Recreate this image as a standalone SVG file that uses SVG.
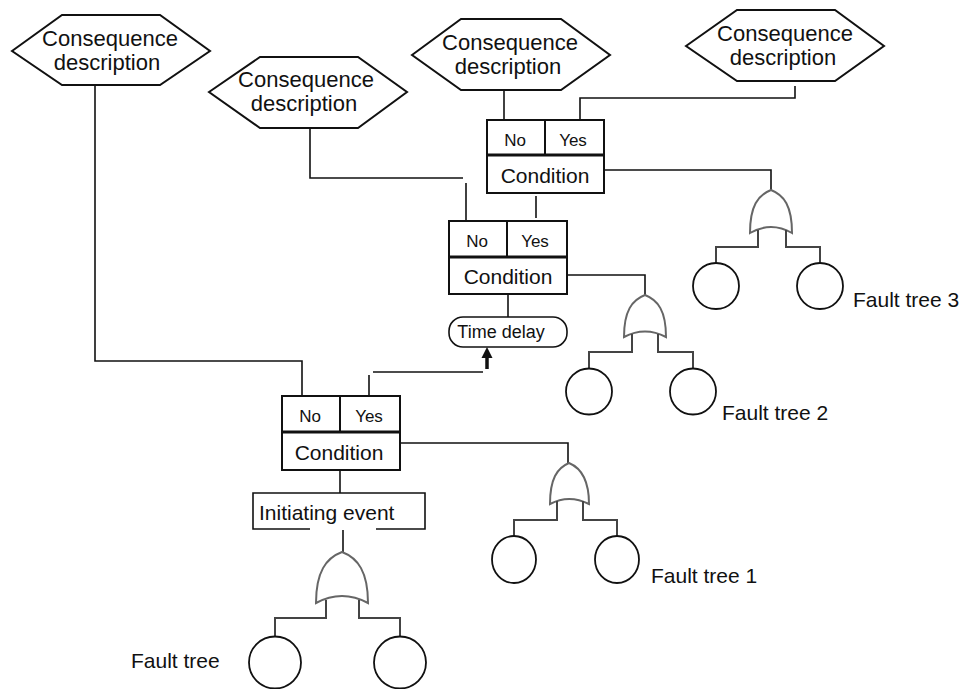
<svg xmlns="http://www.w3.org/2000/svg" width="963" height="689" viewBox="0 0 963 689">
  <style>
    text { font-family: "Liberation Sans", Arial, sans-serif; fill: #111; }
    .hex { fill: #fff; stroke: #111; stroke-width: 2; }
    .big { font-size: 21px; text-anchor: middle; }
    .hexlbl { font-size: 22px; text-anchor: middle; }
    .small { font-size: 17px; text-anchor: middle; }
    .box { fill: #fff; stroke: #111; stroke-width: 2; }
    .mid { stroke: #111; stroke-width: 3; }
    .div { stroke: #111; stroke-width: 2; }
    .wire { fill: none; stroke: #111; stroke-width: 1.6; }
    .gate { fill: #fff; stroke: #666; stroke-width: 2; }
    .leg { fill: none; stroke: #444; stroke-width: 2; }
    .basic { fill: #fff; stroke: #111; stroke-width: 1.8; }
    .ft { font-size: 21px; }
  </style>

  <!-- connectors -->
  <g id="connectors">
    <polyline class="wire" points="95,85 95,361 302,361 302,396"/>
    <polyline class="wire" points="310,128 310,178 463,178"/>
    <line class="wire" x1="466" y1="183" x2="466" y2="221"/>
    <line class="wire" x1="504" y1="90" x2="504" y2="120"/>
    <polyline class="wire" points="795,86 795,98 580,98 580,120"/>
    <line class="wire" x1="536" y1="196" x2="536" y2="218"/>
    <polyline class="wire" points="604,170 771,170 771,190"/>
    <polyline class="wire" points="567,275 645,275 645,295"/>
    <line class="wire" x1="508" y1="294" x2="508" y2="317"/>
    <line class="wire" x1="340" y1="470" x2="340" y2="493"/>
    <line class="wire" x1="369" y1="396" x2="369" y2="375"/>
    <line class="wire" x1="373" y1="372" x2="483" y2="372"/>
    <polyline class="wire" points="400,443 568,443 568,463"/>
    <line class="wire" x1="343" y1="530" x2="343" y2="552"/>
    <!-- time-delay arrow -->
    <line x1="487" y1="369" x2="487" y2="356" stroke="#111" stroke-width="3.5"/>
    <polygon points="487,347 481.5,358 492.5,358" fill="#111"/>
  </g>

  <!-- consequence hexagons -->
  <g id="consequence1">
    <polygon class="hex" points="12,51 62,15 160,15 210,51 160,85 62,85"/>
    <text class="hexlbl" x="110" y="46">Consequence</text>
    <text class="hexlbl" x="107" y="70">description</text>
  </g>
  <g id="consequence2">
    <polygon class="hex" points="209,92 260,57 358,57 407,92 358,128 260,128"/>
    <text class="hexlbl" x="306" y="87">Consequence</text>
    <text class="hexlbl" x="304" y="111">description</text>
  </g>
  <g id="consequence3">
    <polygon class="hex" points="412,55 461,19 561,19 610,55 561,90 461,90"/>
    <text class="hexlbl" x="510" y="50">Consequence</text>
    <text class="hexlbl" x="508" y="74">description</text>
  </g>
  <g id="consequence4">
    <polygon class="hex" points="686,46 737,10 835,10 884,46 835,81 737,81"/>
    <text class="hexlbl" x="785" y="41">Consequence</text>
    <text class="hexlbl" x="783" y="65">description</text>
  </g>

  <!-- condition boxes -->
  <g id="condition3">
    <rect class="box" x="487" y="120" width="117" height="73"/>
    <line class="div" x1="545" y1="120" x2="545" y2="155"/>
    <line class="mid" x1="487" y1="155" x2="604" y2="155"/>
    <text class="small" x="515" y="146">No</text>
    <text class="small" x="573" y="146">Yes</text>
    <text class="big" x="545" y="183">Condition</text>
  </g>
  <g id="condition2">
    <rect class="box" x="449" y="221" width="118" height="73"/>
    <line class="div" x1="507" y1="221" x2="507" y2="257"/>
    <line class="mid" x1="449" y1="257" x2="567" y2="257"/>
    <text class="small" x="477" y="247">No</text>
    <text class="small" x="535" y="247">Yes</text>
    <text class="big" x="508" y="284">Condition</text>
  </g>
  <g id="condition1">
    <rect class="box" x="282" y="396" width="118" height="74"/>
    <line class="div" x1="340" y1="396" x2="340" y2="432"/>
    <line class="mid" x1="282" y1="432" x2="400" y2="432"/>
    <text class="small" x="310" y="422">No</text>
    <text class="small" x="369" y="422">Yes</text>
    <text class="big" x="339" y="460">Condition</text>
  </g>

  <!-- time delay -->
  <g id="time-delay">
    <rect x="449" y="317" width="118" height="30" rx="14" ry="14" fill="#fff" stroke="#111" stroke-width="1.6"/>
    <text x="501" y="338" font-size="18" text-anchor="middle">Time delay</text>
  </g>

  <!-- initiating event -->
  <g id="initiating-event">
    <path class="wire" d="M310,529 H253 V493 H425 V529 H376"/>
    <text x="259" y="520" font-size="21">Initiating event</text>
  </g>

  <!-- fault tree 3 -->
  <g id="fault-tree-3">
    <path class="gate" d="M771,190 C784,195 792,206 792,233 Q771,221 750,233 C750,206 758,195 771,190 Z"/>
    <polyline class="leg" points="758,230 758,247 716,247 716,263"/>
    <polyline class="leg" points="786,230 786,247 820,247 820,263"/>
    <circle class="basic" cx="716" cy="286" r="23"/>
    <circle class="basic" cx="820" cy="286" r="23"/>
    <text class="ft" x="853" y="307">Fault tree 3</text>
  </g>

  <!-- fault tree 2 -->
  <g id="fault-tree-2">
    <path class="gate" d="M645,295 C658,300 666,311 666,337 Q645,326 624,337 C624,311 632,300 645,295 Z"/>
    <polyline class="leg" points="632,334 632,352 589,352 589,368"/>
    <polyline class="leg" points="658,334 658,352 693,352 693,368"/>
    <circle class="basic" cx="589" cy="391.5" r="23"/>
    <circle class="basic" cx="693" cy="391.5" r="23"/>
    <text class="ft" x="722" y="420">Fault tree 2</text>
  </g>

  <!-- fault tree 1 -->
  <g id="fault-tree-1">
    <path class="gate" d="M569,463 C581,468 589,479 589,504 Q569,494 550,504 C550,479 557,468 569,463 Z"/>
    <polyline class="leg" points="557,501 557,520 514,520 514,536"/>
    <polyline class="leg" points="583,501 583,520 617,520 617,536"/>
    <ellipse class="basic" cx="514" cy="559.5" rx="22" ry="23.5"/>
    <ellipse class="basic" cx="617" cy="559.5" rx="22" ry="23.5"/>
    <text class="ft" x="651" y="583">Fault tree 1</text>
  </g>

  <!-- initiating fault tree -->
  <g id="fault-tree-0">
    <path class="gate" d="M342,552 C358,558 368,572 368,603 Q342,589 316,603 C316,572 326,558 342,552 Z"/>
    <polyline class="leg" points="326,600 326,618 275,618 275,637"/>
    <polyline class="leg" points="359,600 359,618 400,618 400,637"/>
    <circle class="basic" cx="275" cy="662.5" r="26"/>
    <circle class="basic" cx="400" cy="662.5" r="26"/>
    <text class="ft" x="131" y="668">Fault tree</text>
  </g>
</svg>
